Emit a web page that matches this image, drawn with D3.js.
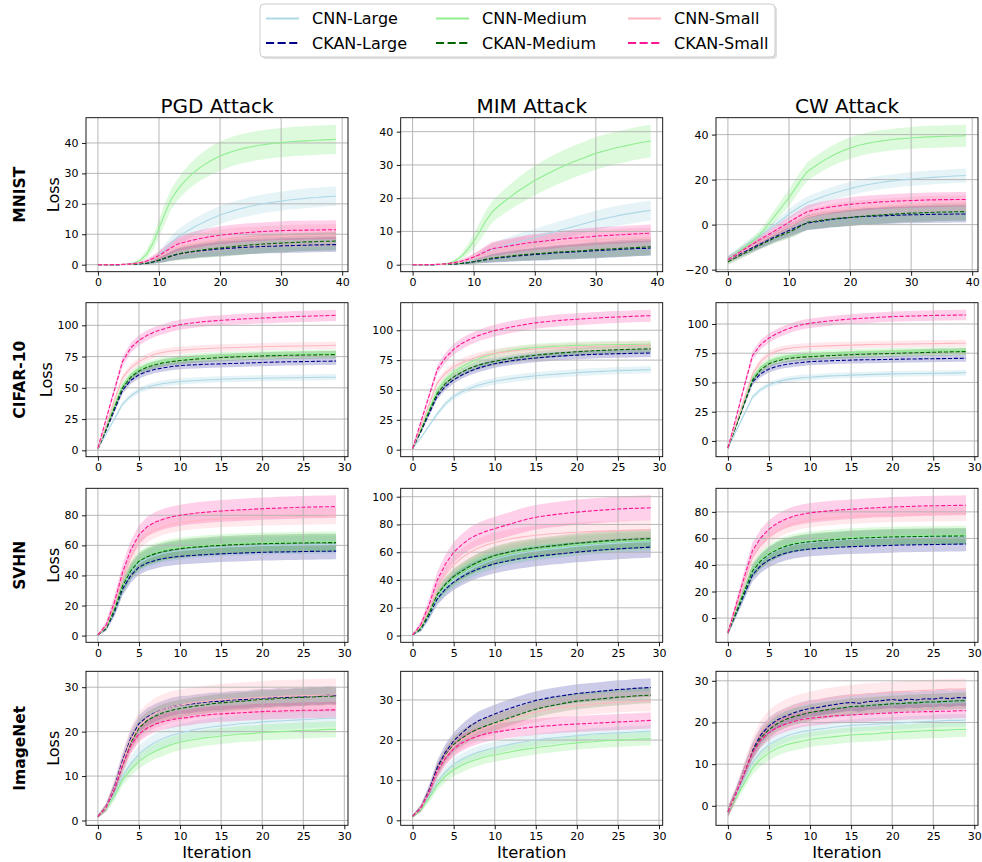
<!DOCTYPE html>
<html><head><meta charset="utf-8">
<script src="https://cdn.jsdelivr.net/npm/d3@7"></script>
<style>body{margin:0;background:#fff}svg{display:block;font-family:"DejaVu Sans",sans-serif}</style>
</head><body><svg id="c" width="982" height="862"></svg>
<script>
const datasets = ["MNIST", "CIFAR-10", "SVHN", "ImageNet"];
const attacks = ["PGD Attack", "MIM Attack", "CW Attack"];
const seriesNames = ["CNN-Large", "CKAN-Large", "CNN-Medium", "CKAN-Medium", "CNN-Small", "CKAN-Small"];
const xTicksMnist = [0, 10, 20, 30, 40];
const xTicksOther = [0, 5, 10, 15, 20, 25, 30];
const yTicksMnist = [[0, 10, 20, 30, 40], [0, 10, 20, 30, 40], [-20, 0, 20, 40]];
const yTicksCifar = [[0, 25, 50, 75, 100], [0, 25, 50, 75, 100], [0, 25, 50, 75, 100]];
const yTicksSvhn = [[0, 20, 40, 60, 80], [0, 20, 40, 60, 80, 100], [0, 20, 40, 60, 80]];
const yTicksImagenet = [[0, 10, 20, 30], [0, 10, 20, 30], [0, 10, 20, 30]];

// ---------- MNIST (40 iterations) ----------
const m_pgd_cnnL = [0,0,0,0,0,0.05,0.1,0.3,0.7,1.5, 3,5,7.2,9,10.3,11.5,12.6,13.6,14.6,15.5, 16.3,17,17.6,18.2,18.7,19.2,19.6,20,20.3,20.6, 20.9,21.2,21.4,21.6,21.8,22,22.1,22.3,22.4,22.5];
const m_pgd_cnnL_sd = [0,0,0,0,0,0.05,0.1,0.2,0.4,0.8, 1.3,1.8,2.2,2.5,2.6,2.7,2.8,2.8,2.9,2.9, 3,3,3,3,3,3.1,3.1,3.1,3.1,3.1, 3.1,3.1,3.2,3.2,3.2,3.2,3.2,3.2,3.2,3.2];
const m_pgd_ckanL = [0,0,0,0,0.05,0.1,0.15,0.3,0.5,0.9, 1.4,2.1,2.8,3.4,3.8,4.1,4.4,4.6,4.8,5, 5.2,5.3,5.45,5.6,5.7,5.8,5.9,6,6.05,6.1, 6.2,6.25,6.3,6.35,6.4,6.45,6.5,6.55,6.6,6.6];
const m_pgd_ckanL_sd = [0,0,0,0,0.05,0.1,0.15,0.25,0.4,0.6, 0.9,1.2,1.5,1.8,1.9,2,2.1,2.1,2.2,2.2, 2.3,2.3,2.3,2.3,2.3,2.3,2.3,2.3,2.3,2.3, 2.4,2.4,2.4,2.4,2.4,2.4,2.4,2.4,2.4,2.4];
const m_pgd_cnnM = [0,0,0,0.05,0.1,0.2,0.6,1.5,3.5,7, 12,17,21.5,24.5,27,29,30.8,32.3,33.6,34.7, 35.7,36.5,37.2,37.8,38.3,38.7,39.1,39.4,39.7,39.9, 40.1,40.3,40.5,40.6,40.7,40.8,40.9,41,41.1,41.2];
const m_pgd_cnnM_sd = [0,0,0,0.05,0.1,0.2,0.4,0.8,1.5,2.3, 3,3.3,3.4,3.5,3.8,4,4.2,4.4,4.6,4.7, 4.8,4.8,4.8,4.8,4.8,4.8,4.8,4.8,4.8,4.8, 4.8,4.8,4.8,4.8,4.8,4.8,4.8,4.8,4.8,4.8];
const m_pgd_ckanM = [0,0,0,0,0.05,0.1,0.15,0.3,0.5,0.9, 1.5,2.2,2.9,3.5,3.9,4.2,4.5,4.8,5.1,5.3, 5.5,5.7,5.9,6.1,6.3,6.5,6.6,6.8,6.9,7, 7.1,7.2,7.3,7.4,7.5,7.5,7.6,7.7,7.7,7.8];
const m_pgd_ckanM_sd = [0,0,0,0,0.05,0.1,0.15,0.25,0.4,0.6, 0.9,1.3,1.6,2,2.2,2.4,2.5,2.6,2.7,2.8, 2.9,2.9,3,3,3,3,3,3,3,3, 3,3,3,3,3,3,3,3,3,3];
const m_pgd_cnnS = [0,0,0,0.05,0.1,0.2,0.35,0.6,1,1.7, 2.6,3.7,4.8,5.7,6.2,6.6,7,7.3,7.6,7.9, 8.1,8.3,8.5,8.7,8.8,8.9,9,9.1,9.2,9.3, 9.4,9.4,9.5,9.5,9.6,9.6,9.6,9.7,9.7,9.7];
const m_pgd_cnnS_sd = [0,0,0,0,0.05,0.1,0.2,0.35,0.6,1, 1.5,2,2.5,2.8,3,3.1,3.2,3.3,3.4,3.5, 3.5,3.5,3.5,3.5,3.5,3.5,3.5,3.5,3.5,3.5, 3.6,3.6,3.6,3.6,3.6,3.6,3.6,3.6,3.6,3.6];
const m_pgd_ckanS = [0,0,0,0.05,0.1,0.2,0.4,0.7,1.2,2, 3,4.3,5.6,6.7,7.3,7.8,8.3,8.7,9.1,9.4, 9.7,9.9,10.1,10.3,10.5,10.6,10.8,10.9,11,11.1, 11.2,11.25,11.3,11.3,11.35,11.4,11.4,11.45,11.5,11.5];
const m_pgd_ckanS_sd = [0,0,0,0,0.05,0.1,0.2,0.35,0.6,1, 1.4,1.8,2.1,2.3,2.5,2.6,2.7,2.8,2.8,2.9, 2.9,3,3,3,3,3,3,3,3,3, 3.1,3.1,3.1,3.1,3.1,3.1,3.1,3.1,3.1,3.1];

const m_mim_cnnL = [0,0,0,0,0,0.05,0.1,0.2,0.4,0.8, 1.5,2.5,3.6,4.5,5,5.6,6.2,6.7,7.2,7.6, 8.1,8.7,9.3,9.8,10.3,10.8,11.3,11.8,12.3,12.8, 13.3,13.7,14.1,14.5,14.9,15.2,15.5,15.8,16.1,16.3];
const m_mim_cnnL_sd = [0,0,0,0,0,0.05,0.1,0.15,0.25,0.45, 0.8,1.2,1.6,2,2.1,2.2,2.3,2.4,2.5,2.5, 2.6,2.6,2.7,2.7,2.8,2.8,2.8,2.9,2.9,2.9, 3,3,3,3,3,3,3,3,3,3];
const m_mim_ckanL = [0,0,0,0,0.05,0.1,0.15,0.25,0.4,0.6, 0.9,1.2,1.5,1.8,2,2.2,2.4,2.6,2.8,2.9, 3.1,3.2,3.3,3.5,3.6,3.7,3.8,3.9,4,4.1, 4.2,4.3,4.4,4.5,4.6,4.7,4.8,4.9,4.9,5];
const m_mim_ckanL_sd = [0,0,0,0,0.05,0.1,0.15,0.2,0.3,0.45, 0.6,0.8,1,1.2,1.3,1.4,1.5,1.6,1.7,1.8, 1.9,1.9,2,2,2.1,2.1,2.2,2.2,2.2,2.3, 2.3,2.3,2.3,2.3,2.3,2.3,2.3,2.3,2.3,2.3];
const m_mim_cnnM = [0,0,0,0.05,0.1,0.2,0.5,1.2,2.5,4.5, 7,10,13.2,15.8,17.5,19,20.4,21.8,23,24.2, 25.3,26.3,27.3,28.2,29.1,29.9,30.7,31.4,32.1,32.8, 33.5,34,34.5,35,35.4,35.8,36.2,36.6,36.9,37.2];
const m_mim_cnnM_sd = [0,0,0,0,0.05,0.1,0.2,0.5,0.9,1.5, 2.2,2.8,3.2,3.2,3.4,3.6,3.8,4,4.2,4.3, 4.4,4.5,4.6,4.7,4.7,4.8,4.8,4.8,4.8,4.9, 4.9,4.9,4.9,4.9,4.9,4.9,4.9,4.9,4.9,4.9];
const m_mim_ckanM = [0,0,0,0,0.05,0.1,0.15,0.25,0.4,0.6, 0.9,1.2,1.6,2,2.2,2.4,2.6,2.8,3,3.1, 3.3,3.4,3.5,3.7,3.8,3.9,4,4.1,4.2,4.4, 4.5,4.6,4.7,4.8,4.9,5,5.1,5.2,5.3,5.4];
const m_mim_ckanM_sd = [0,0,0,0,0.05,0.1,0.15,0.2,0.3,0.45, 0.6,0.8,1,1.2,1.3,1.4,1.5,1.6,1.7,1.8, 1.9,2,2,2.1,2.1,2.2,2.2,2.3,2.3,2.4, 2.4,2.4,2.4,2.5,2.5,2.5,2.5,2.5,2.5,2.5];
const m_mim_cnnS = [0,0,0,0.05,0.1,0.15,0.3,0.5,0.8,1.3, 1.9,2.6,3.4,4.1,4.4,4.7,5,5.2,5.5,5.7, 5.9,6.1,6.3,6.5,6.6,6.8,6.9,7.1,7.2,7.3, 7.4,7.5,7.6,7.7,7.8,7.9,8,8,8.1,8.1];
const m_mim_cnnS_sd = [0,0,0,0,0.05,0.1,0.2,0.3,0.5,0.8, 1.2,1.6,2,2.3,2.4,2.5,2.6,2.7,2.8,2.8, 2.9,2.9,2.9,2.9,2.9,2.9,2.9,2.9,2.9,2.9, 3,3,3,3,3,3,3,3,3,3];
const m_mim_ckanS = [0,0,0,0.05,0.1,0.2,0.4,0.7,1.1,1.6, 2.3,3.1,4,4.8,5.1,5.4,5.7,6,6.3,6.6, 6.8,7,7.2,7.4,7.6,7.8,8,8.1,8.3,8.4, 8.6,8.7,8.8,8.9,9,9.1,9.2,9.3,9.4,9.5];
const m_mim_ckanS_sd = [0,0,0,0,0.05,0.1,0.2,0.3,0.5,0.8, 1.1,1.4,1.7,2,2.1,2.2,2.2,2.3,2.3,2.4, 2.4,2.4,2.5,2.5,2.5,2.5,2.5,2.6,2.6,2.6, 2.6,2.6,2.6,2.6,2.6,2.6,2.6,2.6,2.6,2.6];

const m_cw_cnnL = [-15,-13,-11,-9,-7,-5.5,-3.5,-1.5,0.5,2.5, 4.7,6.5,8.3,9.8,10.8,11.8,12.8,13.7,14.5,15.3, 16,16.7,17.3,17.8,18.3,18.7,19.1,19.4,19.7,20, 20.3,20.5,20.7,20.9,21.1,21.3,21.4,21.6,21.7,21.8];
const m_cw_cnnL_sd = [1.2,1.2,1.3,1.3,1.4,1.5,1.6,1.7,1.8,2, 2.2,2.4,2.6,2.7,2.8,2.8,2.9,2.9,3,3, 3,3,3,3,3,3,3,3,3,3, 3.1,3.1,3.1,3.1,3.1,3.1,3.1,3.1,3.1,3.1];
const m_cw_ckanL = [-15.5,-14.2,-12.9,-11.6,-10.3,-9,-7.7,-6.3,-5,-3.8, -2.6,-1.4,-0.3,0.7,1.1,1.5,1.9,2.3,2.6,2.9, 3.2,3.4,3.6,3.7,3.8,3.9,4,4.1,4.2,4.3, 4.4,4.4,4.5,4.5,4.6,4.6,4.6,4.7,4.7,4.7];
const m_cw_ckanL_sd = [1.3,1.4,1.5,1.6,1.7,1.8,2,2.1,2.3,2.5, 2.7,2.9,3,3.2,3.3,3.4,3.5,3.5,3.6,3.6, 3.7,3.7,3.7,3.7,3.7,3.7,3.7,3.7,3.7,3.7, 3.8,3.8,3.8,3.8,3.8,3.8,3.8,3.8,3.8,3.8];
const m_cw_cnnM = [-15.5,-13.5,-11.5,-9.5,-7.5,-5,-2,1.5,5,8.5, 12,16,20,23.5,25.5,27.3,29,30.5,31.8,33, 34,34.9,35.6,36.2,36.7,37.1,37.5,37.8,38.1,38.3, 38.5,38.7,38.9,39,39.1,39.2,39.3,39.4,39.4,39.5];
const m_cw_cnnM_sd = [1.5,1.5,1.6,1.7,1.8,2,2.3,2.6,3,3.4, 3.7,3.9,4,4.1,4.2,4.3,4.4,4.5,4.6,4.7, 4.8,4.8,4.8,4.8,4.8,4.8,4.8,4.8,4.8,4.8, 4.9,4.9,4.9,4.9,4.9,4.9,4.9,4.9,4.9,4.9];
const m_cw_ckanM = [-16.5,-15.1,-13.7,-12.3,-10.9,-9.5,-8.1,-6.8,-5.5,-4.4, -3.4,-2.1,-0.5,1,1.4,1.8,2.2,2.5,2.8,3, 3.2,3.5,3.7,3.9,4.1,4.3,4.5,4.6,4.8,5, 5.1,5.2,5.3,5.4,5.5,5.6,5.6,5.7,5.7,5.8];
const m_cw_ckanM_sd = [1.3,1.4,1.5,1.6,1.7,1.8,2,2.1,2.3,2.5, 2.7,2.9,3.1,3.3,3.4,3.5,3.6,3.7,3.8,3.8, 3.9,3.9,3.9,3.9,3.9,3.9,3.9,3.9,3.9,3.9, 4,4,4,4,4,4,4,4,4,4];
const m_cw_cnnS = [-15.5,-14,-12.5,-11,-9.5,-8,-6.5,-5,-3.6,-2.2, -0.8,0.7,2.2,3.5,4.1,4.7,5.2,5.7,6.1,6.5, 6.8,7.1,7.4,7.6,7.8,8,8.2,8.4,8.5,8.7, 8.8,8.9,9,9.1,9.2,9.3,9.3,9.4,9.4,9.5];
const m_cw_cnnS_sd = [1.3,1.4,1.5,1.6,1.7,1.8,1.9,2,2.2,2.4, 2.6,2.8,3,3.1,3.2,3.3,3.3,3.4,3.4,3.5, 3.5,3.5,3.5,3.5,3.5,3.5,3.5,3.5,3.5,3.5, 3.6,3.6,3.6,3.6,3.6,3.6,3.6,3.6,3.6,3.6];
const m_cw_ckanS = [-15.5,-13.8,-12.1,-10.4,-8.7,-7,-5.4,-3.8,-2.2,-0.6, 1,2.7,4.3,5.8,6.4,7,7.5,7.9,8.3,8.7, 9,9.3,9.5,9.7,9.9,10.1,10.2,10.4,10.5,10.6, 10.7,10.8,10.9,11,11,11.1,11.1,11.2,11.2,11.2];
const m_cw_ckanS_sd = [1.3,1.4,1.5,1.6,1.7,1.8,1.9,2,2.2,2.3, 2.5,2.6,2.7,2.8,2.9,3,3,3.1,3.1,3.1, 3.2,3.2,3.2,3.2,3.2,3.2,3.2,3.2,3.2,3.2, 3.3,3.3,3.3,3.3,3.3,3.3,3.3,3.3,3.3,3.3];

// ---------- CIFAR-10 (30 iterations) ----------
const c_pgd_cnnL = [1,13,25,37,43.5,48,50.5,52.3,53.5,54.3, 55,55.5,55.9,56.2,56.5,56.8,57,57.2,57.4,57.5, 57.7,57.8,57.9,58,58.1,58.2,58.3,58.4,58.5,58.5];
const c_pgd_cnnL_sd = [0.5,1,1.5,2,2.2,2.3,2.4,2.4,2.5,2.5, 2.5,2.5,2.5,2.5,2.5,2.5,2.5,2.5,2.5,2.5, 2.5,2.5,2.5,2.5,2.5,2.5,2.5,2.5,2.5,2.5];
const c_pgd_ckanL = [1,16,32,48,56,60.4,63,64.8,66,67, 67.8,68.2,68.5,68.8,69,69.2,69.4,69.6,69.8,70, 70.3,70.5,70.6,70.8,70.9,71,71.1,71.2,71.3,71.4];
const c_pgd_ckanL_sd = [0.5,1.2,2,2.8,3,3,3,3,3,3, 3,3,3,3,3,3,3,3,3,3, 3,3,3,3,3,3,3,3,3,3];
const c_pgd_cnnM = [1,18,36,52,60,65,68,70,71.5,72.5, 73.3,74,74.5,75,75.3,75.6,75.9,76.1,76.3,76.5, 76.7,76.8,76.9,77,77.1,77.2,77.3,77.4,77.5,77.5];
const c_pgd_cnnM_sd = [0.5,1.2,2,2.8,3,3,3,3,3,3, 3,3,3,3,3,3,3,3,3,3, 3,3,3,3,3,3,3,3,3,3];
const c_pgd_ckanM = [1,17,34,50,58.5,63.5,66.5,68.5,70,71, 71.8,72.4,73,73.4,73.8,74.2,74.5,74.8,75,75.2, 75.5,75.7,75.8,76,76.1,76.2,76.3,76.4,76.5,76.6];
const c_pgd_ckanM_sd = [0.5,1.2,2,2.8,3,3,3,3,3,3, 3,3,3,3,3,3,3,3,3,3, 3,3,3,3,3,3,3,3,3,3];
const c_pgd_cnnS = [1,20,40,58,66,71,74.5,77,78.5,79.5, 80,80.5,81,81.3,81.6,81.8,82,82.2,82.4,82.6, 82.8,83,83.2,83.3,83.4,83.5,83.6,83.7,83.8,84];
const c_pgd_cnnS_sd = [0.5,1.5,2.5,3,3,3,3,3,3,3, 3,3,3,3,3,3,3,3,3,3, 3,3,3,3,3,3,3,3,3,3];
const c_pgd_ckanS = [2,25,48,71,82,88,92,95,97,99, 100.5,101.5,102.3,103,103.5,104,104.4,104.8,105.2,105.5, 105.8,106.1,106.4,106.7,107,107.2,107.4,107.6,107.8,108];
const c_pgd_ckanS_sd = [1,2,3,3.8,4,4,4,4,4,4, 4,4,4,4,4.1,4.1,4.2,4.2,4.3,4.3, 4.3,4.4,4.4,4.4,4.5,4.5,4.5,4.5,4.5,4.5];

const c_mim_cnnL = [1,10,20,30,38.5,44.5,48.5,51.5,54,55.8, 57.3,58.5,59.5,60.4,61.2,61.9,62.5,63,63.5,64, 64.5,64.9,65.3,65.6,65.9,66.2,66.4,66.6,66.8,67];
const c_mim_cnnL_sd = [0.5,1,1.5,2,2.3,2.5,2.6,2.7,2.8,2.9, 3,3,3,3,3,3,3,3,3,3, 3,3,3,3,3,3,3,3,3,3];
const c_mim_ckanL = [1,15,30,45,53,58.5,62.5,65.8,68.3,70.3, 72,73.3,74.4,75.3,76.1,76.8,77.4,77.9,78.4,78.8, 79.2,79.5,79.8,80,80.2,80.4,80.5,80.7,80.8,80.9];
const c_mim_ckanL_sd = [0.5,1.2,2,2.8,3,3.1,3.2,3.3,3.4,3.5, 3.5,3.5,3.5,3.5,3.5,3.5,3.5,3.5,3.5,3.5, 3.5,3.5,3.5,3.5,3.5,3.5,3.5,3.5,3.5,3.5];
const c_mim_cnnM = [1,17,34,50,59,65,69.5,73,76,78.5, 80.5,82,83.2,84.2,85,85.6,86.1,86.5,86.8,87.1, 87.3,87.5,87.7,87.8,87.9,88,88.1,88.2,88.3,88.4];
const c_mim_cnnM_sd = [0.5,1.2,2,2.8,3,3,3,3,3,3, 3,3,3,3,3,3,3,3,3,3, 3,3,3,3,3,3,3,3,3,3];
const c_mim_ckanM = [1,16,32,47,55.5,61,65,68.3,70.8,72.6, 74,75.3,76.4,77.4,78.3,79.1,79.8,80.4,81,81.5, 82,82.4,82.8,83.1,83.4,83.7,83.9,84.1,84.3,84.5];
const c_mim_ckanM_sd = [0.5,1.2,2,2.8,3,3.1,3.2,3.3,3.3,3.3, 3.3,3.3,3.3,3.3,3.3,3.3,3.3,3.3,3.3,3.3, 3.3,3.3,3.3,3.3,3.3,3.3,3.3,3.3,3.3,3.3];
const c_mim_cnnS = [1,19,38,56,64,69.5,73,75.7,77.8,79.4, 80.7,81.7,82.5,83.2,83.8,84.3,84.7,85.1,85.4,85.7, 86,86.2,86.4,86.6,86.8,87,87.1,87.2,87.3,87.4];
const c_mim_cnnS_sd = [0.5,1.5,2.5,3,3.2,3.4,3.5,3.5,3.5,3.5, 3.5,3.5,3.5,3.5,3.5,3.5,3.5,3.5,3.5,3.5, 3.5,3.5,3.5,3.5,3.5,3.5,3.5,3.5,3.5,3.5];
const c_mim_ckanS = [1,23,45,67,77,84,89,92.5,95.5,97.8, 99.7,101.3,102.7,104,105.2,106.2,107,107.7,108.3,108.8, 109.2,109.7,110.1,110.5,110.8,111.1,111.4,111.7,112,112.2];
const c_mim_ckanS_sd = [1,2,3,3.8,4.2,4.5,4.6,4.7,4.8,4.9, 5,5,5,5,5,5,5,5,5,5, 5,5,5,5,5,5,5,5,5,5];

const c_cw_cnnL = [-6,8.5,23,37.5,44,48,50.5,52.2,53.3,54, 54.5,55,55.4,55.7,56,56.3,56.5,56.7,56.9,57.1, 57.3,57.4,57.5,57.6,57.7,57.8,57.9,58,58.2,58.3];
const c_cw_cnnL_sd = [1.5,1.5,1.8,2,2.2,2.3,2.4,2.4,2.5,2.5, 2.5,2.5,2.5,2.5,2.5,2.5,2.5,2.5,2.5,2.5, 2.5,2.5,2.5,2.5,2.5,2.5,2.5,2.5,2.5,2.5];
const c_cw_ckanL = [-6,13,32,50.5,57.5,61.5,63.8,65.3,66.3,67.1, 67.8,68.1,68.4,68.7,68.9,69.1,69.3,69.4,69.5,69.6, 69.8,69.9,70,70.1,70.2,70.3,70.4,70.5,70.6,70.7];
const c_cw_ckanL_sd = [1.5,1.8,2.2,2.8,3,3,3,3,3,3, 3,3,3,3,3,3,3,3,3,3, 3,3,3,3,3,3,3,3,3,3];
const c_cw_cnnM = [-6,14,34,54,63,68,70.5,72,73,73.6, 74,74.4,74.7,75,75.3,75.5,75.7,75.9,76.1,76.3, 76.4,76.5,76.6,76.7,76.8,76.9,77,77.1,77.2,77.2];
const c_cw_cnnM_sd = [1.5,1.8,2.2,2.8,3,3,3,3,3,3, 3,3,3,3,3,3,3,3,3,3, 3,3,3,3,3,3,3,3,3,3];
const c_cw_ckanM = [-6,13,32.5,52,61,66,68.5,70,71,71.6, 72,72.4,72.8,73.1,73.4,73.7,74,74.2,74.4,74.6, 74.8,75,75.2,75.4,75.6,75.8,76,76.1,76.3,76.4];
const c_cw_ckanM_sd = [1.5,1.8,2.2,2.8,3,3,3,3,3,3, 3,3,3,3,3,3,3,3,3,3, 3,3,3,3,3,3,3,3,3,3];
const c_cw_cnnS = [-6,15,36,57,68,74,77,78.7,79.7,80.3, 80.7,81,81.3,81.5,81.7,81.9,82.1,82.3,82.5,82.6, 82.7,82.8,82.9,83,83.1,83.2,83.3,83.4,83.5,83.5];
const c_cw_cnnS_sd = [1.5,2,2.5,3,3,3,3,3,3,3, 3,3,3,3,3,3,3,3,3,3, 3,3,3,3,3,3,3,3,3,3];
const c_cw_ckanS = [-6,20,47,73,82.5,88,92,95,97.5,99.3, 100.6,101.5,102.3,103,103.7,104.3,104.7,105.1,105.5,105.9, 106.3,106.5,106.7,106.9,107.1,107.3,107.4,107.5,107.6,107.7];
const c_cw_ckanS_sd = [1.5,2.2,3,3.8,4,4,4,4,4,4, 4,4,4,4,4.1,4.1,4.2,4.2,4.3,4.3, 4.3,4.4,4.4,4.4,4.5,4.5,4.5,4.5,4.5,4.5];

// ---------- SVHN ----------
const s_pgd_cnnL = [0.5,4.5,16,32,42,48.3,51.3,53.3,54.8,55.8, 56.6,57.2,57.7,58.1,58.5,58.8,59.1,59.3,59.5,59.7, 59.9,60,60.1,60.2,60.3,60.4,60.5,60.5,60.6,60.6];
const s_pgd_cnnL_sd = [0.3,1.5,3,4.5,5.2,5.5,5.7,5.8,5.9,6, 6,6,6,6,6,6,6,6,6,6, 6,6,6,6,6,6,6,6,6,6];
const s_pgd_ckanL = [0.5,4.5,15.5,31,40,45.5,48.3,50,51.3,52.1, 52.7,53.1,53.5,53.8,54.1,54.4,54.6,54.8,55,55.2, 55.4,55.5,55.6,55.7,55.8,55.9,56,56.1,56.1,56.2];
const s_pgd_ckanL_sd = [0.3,1.5,3,4.3,4.8,5,5.2,5.3,5.4,5.5, 5.5,5.5,5.5,5.5,5.5,5.5,5.5,5.5,5.5,5.5, 5.5,5.5,5.5,5.5,5.5,5.5,5.5,5.5,5.5,5.5];
const s_pgd_cnnM = [0.5,5,17.5,33.5,43.5,50,53,55,56.5,57.5, 58.4,59,59.5,59.9,60.3,60.6,60.9,61.1,61.3,61.5, 61.7,61.8,61.9,62,62.1,62.2,62.3,62.3,62.4,62.4];
const s_pgd_cnnM_sd = [0.3,1.5,3.2,5,5.8,6.2,6.4,6.5,6.6,6.7, 6.8,6.8,6.8,6.8,6.8,6.8,6.8,6.8,6.8,6.8, 6.8,6.8,6.8,6.8,6.8,6.8,6.8,6.8,6.8,6.8];
const s_pgd_ckanM = [0.5,5,17,33,43,49.5,52.5,54.5,56,57, 57.8,58.4,58.9,59.3,59.7,60,60.3,60.5,60.7,60.9, 61.1,61.2,61.3,61.4,61.5,61.6,61.7,61.7,61.8,61.8];
const s_pgd_ckanM_sd = [0.3,1.5,3,4.5,5.2,5.5,5.6,5.7,5.8,5.9, 6,6,6,6,6,6,6,6,6,6, 6,6,6,6,6,6,6,6,6,6];
const s_pgd_cnnS = [0.5,6,20,38,52,62,67.5,70.5,72.5,74, 75,75.8,76.4,76.9,77.3,77.6,77.9,78.1,78.3,78.5, 78.7,78.8,78.9,79,79.1,79.2,79.3,79.4,79.5,79.5];
const s_pgd_cnnS_sd = [0.3,2,4,5,5.2,5.3,5.4,5.5,5.5,5.5, 5.5,5.5,5.5,5.5,5.5,5.5,5.5,5.5,5.5,5.5, 5.5,5.5,5.5,5.5,5.5,5.5,5.5,5.5,5.5,5.5];
const s_pgd_ckanS = [0.5,7,22,42,57,67,72.5,75.5,77.5,79, 80,80.8,81.5,82,82.5,82.9,83.2,83.5,83.8,84.1, 84.4,84.6,84.8,85,85.2,85.4,85.5,85.6,85.7,85.8];
const s_pgd_ckanS_sd = [0.3,2.5,4.5,5.5,6,6.3,6.5,6.7,6.8,6.9, 7,7,7.1,7.1,7.2,7.2,7.3,7.3,7.3,7.4, 7.4,7.4,7.5,7.5,7.5,7.5,7.5,7.5,7.5,7.5];

const s_mim_cnnL = [0.5,4.5,14.5,27,34.5,40,44,47.5,50.5,53, 55,56.6,58,59.2,60.2,61,61.7,62.4,63,63.7, 64.3,64.8,65.3,65.8,66.2,66.6,66.9,67.2,67.4,67.6];
const s_mim_cnnL_sd = [0.3,1.5,3,4.5,5.2,5.6,6,6.3,6.5,6.7, 6.8,6.8,6.8,6.8,6.8,6.9,6.9,6.9,6.9,6.9, 7,7,7,7,7,7,7,7,7,7];
const s_mim_ckanL = [0.5,4.5,14.5,26.5,33.5,38.5,42.3,45.5,48,50, 51.7,53,54.2,55.3,56.2,57,57.7,58.3,58.9,59.5, 60.1,60.6,61.1,61.6,62,62.4,62.8,63.1,63.4,63.7];
const s_mim_ckanL_sd = [0.3,1.5,3,4.5,5.2,5.6,6,6.3,6.5,6.7, 6.8,6.9,7,7,7.1,7.1,7.2,7.2,7.3,7.3, 7.3,7.4,7.4,7.4,7.5,7.5,7.5,7.5,7.5,7.5];
const s_mim_cnnM = [0.5,5,16,29,36,41.5,45.5,49,52,54.3, 56.5,58,59.3,60.4,61.3,62,62.7,63.4,64,64.7, 65.3,65.8,66.3,66.8,67.2,67.6,67.9,68.2,68.4,68.6];
const s_mim_cnnM_sd = [0.3,1.5,3.2,4.8,5.5,6,6.3,6.5,6.7,6.9, 7,7,7,7,7,7,7,7,7,7, 7,7,7,7,7,7,7,7,7,7];
const s_mim_ckanM = [0.5,5,16,29.5,37,42.5,46.5,50,53,55.5, 57.7,59.2,60.5,61.6,62.5,63.2,63.9,64.6,65.2,65.9, 66.5,67,67.5,68,68.4,68.8,69.1,69.4,69.6,69.8];
const s_mim_ckanM_sd = [0.3,1.5,3,4.5,5.2,5.6,6,6.2,6.4,6.5, 6.6,6.7,6.8,6.8,6.9,6.9,7,7,7,7, 7,7,7,7,7,7,7,7,7,7];
const s_mim_cnnS = [0.5,7,19,34,44,51,56,60,63,65.3, 67,68.5,69.7,70.7,71.5,72.2,72.8,73.3,73.7,74.1, 74.4,74.7,75,75.2,75.4,75.6,75.8,75.9,76,76.1];
const s_mim_cnnS_sd = [0.3,2,4,5.5,6,6.3,6.5,6.6,6.7,6.8, 7,7,7,7,7,7,7,7,7,7, 7,7,7,7,7,7,7,7,7,7];
const s_mim_ckanS = [0.5,8,22,40,51.5,60,65.5,70,73,75.2, 77,78.8,80.5,82.3,83.9,85.2,86.1,86.9,87.6,88.3, 88.9,89.4,89.9,90.3,90.7,91.1,91.4,91.6,91.8,92];
const s_mim_ckanS_sd = [0.3,2.5,4.5,6,6.8,7.3,7.7,8,8.2,8.4, 8.5,8.6,8.7,8.8,8.8,8.9,8.9,8.9,9,9, 9,9,9,9,9,9,9,9,9,9];

const s_cw_cnnL = [-11,4,19.5,35,42.5,47.5,51,53.5,55.2,56.3, 57,57.6,58.1,58.6,59,59.4,59.7,60,60.2,60.4, 60.6,60.7,60.8,60.9,61,61.1,61.2,61.2,61.3,61.3];
const s_cw_cnnL_sd = [2,3,4,5,5.5,5.8,6,6,6,6, 6,6,6,6,6,6,6,6,6,6, 6,6,6,6,6,6,6,6,6,6];
const s_cw_ckanL = [-11,3.5,18,32.5,39.5,43.8,46.8,48.9,50.3,51.3, 52,52.5,52.9,53.2,53.5,53.8,54,54.2,54.4,54.6, 54.8,55,55.1,55.2,55.3,55.4,55.5,55.6,55.7,55.8];
const s_cw_ckanL_sd = [2,3,4,5,5.3,5.5,5.5,5.5,5.5,5.5, 5.5,5.5,5.5,5.5,5.5,5.5,5.5,5.5,5.5,5.5, 5.5,5.5,5.5,5.5,5.5,5.5,5.5,5.5,5.5,5.5];
const s_cw_cnnM = [-11,5,21,36.5,44,49,52.3,54.8,56.4,57.5, 58.2,58.8,59.3,59.8,60.2,60.6,60.9,61.2,61.4,61.6, 61.8,61.9,62,62.1,62.2,62.3,62.4,62.4,62.5,62.5];
const s_cw_cnnM_sd = [2,3,4.5,5.5,6.2,6.5,6.7,6.8,6.9,7, 7,7,7,7,7,7,7,7,7,7, 7,7,7,7,7,7,7,7,7,7];
const s_cw_ckanM = [-11,4.5,20,35.5,43,48,51.5,54,55.7,56.8, 57.5,58.1,58.6,59.1,59.5,59.9,60.2,60.5,60.7,60.9, 61.1,61.2,61.3,61.4,61.5,61.6,61.7,61.7,61.8,61.8];
const s_cw_ckanM_sd = [2,3,4,5,5.5,5.8,6,6,6,6, 6,6,6,6,6,6,6,6,6,6, 6,6,6,6,6,6,6,6,6,6];
const s_cw_cnnS = [-11,8,27,46,55,61,65.5,68.8,71,72.6, 73.8,74.6,75.2,75.7,76.1,76.5,76.8,77.1,77.3,77.5, 77.7,77.9,78,78.1,78.2,78.3,78.4,78.5,78.6,78.7];
const s_cw_cnnS_sd = [2,3,4,5,5.2,5.3,5.4,5.5,5.5,5.5, 5.5,5.5,5.5,5.5,5.5,5.5,5.5,5.5,5.5,5.5, 5.5,5.5,5.5,5.5,5.5,5.5,5.5,5.5,5.5,5.5];
const s_cw_ckanS = [-11,10,31,51,60.5,67,71.5,74.5,76.8,78.2, 79.3,80,80.6,81.1,81.6,82,82.4,82.8,83.1,83.4, 83.7,83.9,84.1,84.3,84.5,84.6,84.7,84.8,84.9,85];
const s_cw_ckanS_sd = [2,3.5,5,6,6.5,6.8,7,7.1,7.2,7.3, 7.4,7.4,7.4,7.4,7.4,7.4,7.4,7.4,7.4,7.4, 7.5,7.5,7.5,7.5,7.5,7.5,7.5,7.5,7.5,7.5];

// ---------- ImageNet ----------
const i_pgd_cnnL = [0.9,2.8,6,10,12.8,15,16.5,17.6,18.5,19.2, 19.7,20.1,20.5,20.8,21.1,21.3,21.5,21.7,21.9,22, 22.2,22.3,22.4,22.5,22.6,22.7,22.8,22.9,23,23];
const i_pgd_cnnL_sd = [0.3,0.8,1.2,1.5,1.7,1.8,1.9,2,2,2, 2,2,2,2,2,2,2,2,2,2, 2,2,2,2,2,2,2,2,2,2];
const i_pgd_ckanL = [0.9,3,7.5,13.5,18.5,21.8,23.3,24.3,25,25.6, 26,26.1,26.4,26.6,26.8,26.8,27.1,27.2,27.2,27.5, 27.6,27.6,27.8,27.7,27.9,27.8,28.1,28,28.2,28.1];
const i_pgd_ckanL_sd = [0.3,0.8,1.2,1.6,1.8,1.9,2,2,2,2, 2,2,2,2,2,2,2,2,2,2, 2,2,2,2,2,2,2,2,2,2];
const i_pgd_cnnM = [0.8,2.7,5.5,9.2,11.5,13.3,14.6,15.6,16.4,17.1, 17.6,18,18.3,18.6,18.8,19,19.2,19.4,19.5,19.6, 19.8,19.9,20,20.1,20.2,20.3,20.3,20.4,20.5,20.5];
const i_pgd_cnnM_sd = [0.3,0.7,1,1.3,1.5,1.6,1.7,1.7,1.8,1.8, 1.8,1.8,1.8,1.8,1.8,1.8,1.8,1.8,1.8,1.8, 1.8,1.8,1.8,1.8,1.8,1.8,1.8,1.8,1.8,1.8];
const i_pgd_ckanM = [0.9,3,7,12.5,17.5,20.8,22.5,23.5,24.3,24.8, 25.2,25.5,25.8,26,26.3,26.5,26.6,26.8,26.9,27.1, 27.3,27.3,27.5,27.5,27.7,27.7,27.8,27.9,28,28];
const i_pgd_ckanM_sd = [0.3,0.8,1.2,1.6,1.8,1.9,2,2,2,2, 2,2,2,2,2,2,2,2,2,2, 2,2,2,2,2,2,2,2,2,2];
const i_pgd_cnnS = [0.9,3,7.3,13,18,21.3,23,24.2,25,25.6, 26,26.3,26.6,26.8,27,27.2,27.3,27.4,27.5,27.6, 27.7,27.8,27.9,28,28,28.1,28.1,28.2,28.2,28.3];
const i_pgd_cnnS_sd = [0.3,1,1.8,2.5,3,3.2,3.3,3.4,3.5,3.5, 3.5,3.5,3.5,3.5,3.5,3.6,3.6,3.6,3.6,3.6, 3.7,3.7,3.7,3.7,3.7,3.7,3.7,3.7,3.7,3.7];
const i_pgd_ckanS = [0.9,3,7,12.5,16.8,19.5,20.8,21.7,22.3,22.7, 23,23.2,23.5,23.7,23.9,24,24.1,24.2,24.3,24.4, 24.5,24.6,24.6,24.7,24.7,24.8,24.8,24.8,24.9,24.9];
const i_pgd_ckanS_sd = [0.3,0.8,1.2,1.5,1.7,1.8,1.8,1.8,1.8,1.8, 1.8,1.8,1.8,1.8,1.8,1.8,1.8,1.8,1.8,1.8, 1.8,1.8,1.8,1.8,1.8,1.8,1.8,1.8,1.8,1.8];

const i_mim_cnnL = [1,2.8,6,9.5,12,14,15.2,16.2,17,17.6, 18.1,18.6,19,19.4,19.7,20,20.3,20.5,20.7,20.9, 21.1,21.3,21.5,21.6,21.7,21.8,21.9,22,22.1,22.2];
const i_mim_cnnL_sd = [0.3,0.6,1,1.3,1.4,1.5,1.5,1.5,1.5,1.5, 1.5,1.5,1.5,1.5,1.5,1.5,1.5,1.5,1.5,1.5, 1.5,1.5,1.5,1.5,1.5,1.5,1.5,1.5,1.5,1.5];
const i_mim_ckanL = [1,3,7.5,13.2,17,19.8,21.8,23.5,24.8,25.7, 26.5,27.3,28,28.7,29.3,29.9,30.3,30.7,31,31.3, 31.6,31.8,32,32.2,32.4,32.6,32.7,32.9,33,33.1];
const i_mim_ckanL_sd = [0.3,0.8,1.3,1.7,2,2.1,2.2,2.2,2.3,2.3, 2.3,2.3,2.3,2.3,2.3,2.3,2.3,2.3,2.3,2.3, 2.3,2.3,2.3,2.3,2.3,2.3,2.3,2.3,2.3,2.3];
const i_mim_cnnM = [0.8,2.6,5.5,8.8,11,12.6,13.7,14.6,15.3,15.9, 16.3,16.7,17.1,17.5,17.8,18.1,18.4,18.6,18.9,19.1, 19.3,19.5,19.6,19.8,19.9,20,20.1,20.2,20.3,20.4];
const i_mim_cnnM_sd = [0.3,0.6,1,1.3,1.5,1.6,1.7,1.7,1.7,1.7, 1.7,1.7,1.7,1.7,1.7,1.7,1.7,1.7,1.7,1.7, 1.7,1.7,1.7,1.7,1.7,1.7,1.7,1.7,1.7,1.7];
const i_mim_ckanM = [1,3,7,12.5,16.2,18.9,20.5,21.8,22.8,23.6, 24.3,25,25.7,26.4,27.1,27.7,28.2,28.6,29,29.4, 29.7,29.9,30.1,30.3,30.5,30.7,30.8,31,31.1,31.2];
const i_mim_ckanM_sd = [0.3,0.8,1.2,1.6,1.8,1.9,2,2,2,2, 2,2,2,2,2,2,2,2,2,2, 2,2,2,2,2,2,2,2,2,2];
const i_mim_cnnS = [1,3,7,12.3,16,18.5,20.1,21.4,22.4,23.2, 23.9,24.6,25.3,25.9,26.5,27,27.4,27.8,28.1,28.4, 28.6,28.8,29,29.1,29.3,29.4,29.5,29.6,29.7,29.7];
const i_mim_cnnS_sd = [0.3,0.8,1.3,1.8,2.1,2.3,2.4,2.5,2.5,2.5, 2.5,2.5,2.5,2.5,2.5,2.5,2.5,2.5,2.5,2.5, 2.5,2.5,2.5,2.5,2.5,2.5,2.5,2.5,2.5,2.5];
const i_mim_ckanS = [1,3,7,12.3,15.5,17.8,19.3,20.3,21,21.6, 22,22.3,22.6,22.9,23.1,23.3,23.5,23.6,23.8,23.9, 24,24.1,24.2,24.3,24.4,24.5,24.6,24.7,24.8,24.9];
const i_mim_ckanS_sd = [0.3,0.8,1.2,1.6,1.8,1.9,2,2,2,2, 2,2,2,2,2,2,2,2,2,2, 2,2,2,2,2,2,2,2,2,2];

const i_cw_cnnL = [-1.5,2.5,6.5,10.5,13,14.7,15.8,16.7,17.3,17.8, 18.1,18.4,18.6,18.9,19.1,19.3,19.4,19.5,19.6,19.7, 19.8,19.9,20,20.1,20.2,20.3,20.4,20.5,20.5,20.6];
const i_cw_cnnL_sd = [1.2,1.2,1.3,1.4,1.5,1.5,1.5,1.5,1.5,1.5, 1.5,1.5,1.5,1.5,1.5,1.5,1.5,1.5,1.5,1.5, 1.5,1.5,1.5,1.5,1.5,1.5,1.5,1.5,1.5,1.5];
const i_cw_ckanL = [-1.5,3,8.5,13.5,17,19.2,20.6,21.5,22.3,22.9, 23.4,23.6,24,24.3,24.6,24.8,24.6,25,25.1,25.3, 25.5,25.3,25.6,25.4,25.7,25.6,25.9,25.7,26,25.9];
const i_cw_ckanL_sd = [1.2,1.3,1.5,1.8,2,2,2,2,2,2, 2,2,2,2,2,2,2,2,2,2, 2,2,2,2,2,2,2,2,2,2];
const i_cw_cnnM = [-1.5,2,5.5,9,11.2,12.7,13.8,14.6,15.1,15.5, 15.9,16.2,16.4,16.6,16.8,17,17.1,17.2,17.3,17.5, 17.6,17.7,17.8,17.9,18,18.1,18.1,18.2,18.3,18.3];
const i_cw_cnnM_sd = [1.2,1.2,1.3,1.5,1.7,1.8,1.8,1.8,1.8,1.8, 1.8,1.8,1.8,1.8,1.8,1.8,1.8,1.8,1.8,1.8, 1.8,1.8,1.8,1.8,1.8,1.8,1.8,1.8,1.8,1.8];
const i_cw_ckanM = [-1.5,3,8,13,16.3,18.3,19.7,20.7,21.4,21.9, 22.4,22.7,23,23.3,23.5,23.8,23.9,24,24.2,24.3, 24.5,24.5,24.7,24.7,24.9,24.9,25,25.1,25.2,25.2];
const i_cw_ckanM_sd = [1.2,1.3,1.5,1.8,2,2,2,2,2,2, 2,2,2,2,2,2,2,2,2,2, 2,2,2,2,2,2,2,2,2,2];
const i_cw_cnnS = [-1.5,3,8.5,14,18,20.5,22,23,23.8,24.4, 24.9,25.3,25.7,26,26.3,26.5,26.7,26.9,27,27.2, 27.3,27.4,27.5,27.6,27.7,27.8,27.9,28,28,28.1];
const i_cw_cnnS_sd = [1.5,1.8,2.2,2.5,2.5,2.5,2.5,2.5,2.5,2.5, 2.5,2.5,2.5,2.5,2.5,2.5,2.5,2.5,2.5,2.5, 2.5,2.5,2.5,2.5,2.5,2.5,2.5,2.5,2.5,2.5];
const i_cw_ckanS = [-1.5,3,8,12.8,15.8,17.6,18.8,19.6,20.2,20.7, 21,21.2,21.4,21.6,21.7,21.8,21.9,22,22.1,22.2, 22.3,22.4,22.5,22.5,22.6,22.6,22.7,22.7,22.8,22.8];
const i_cw_ckanS_sd = [1.2,1.3,1.5,1.7,1.8,1.8,1.8,1.8,1.8,1.8, 1.8,1.8,1.8,1.8,1.8,1.8,1.8,1.8,1.8,1.8, 1.8,1.8,1.8,1.8,1.8,1.8,1.8,1.8,1.8,1.8];

// ---------- assemble ----------
const grid = [
  [[[m_pgd_cnnL,m_pgd_cnnL_sd],[m_pgd_ckanL,m_pgd_ckanL_sd],[m_pgd_cnnM,m_pgd_cnnM_sd],[m_pgd_ckanM,m_pgd_ckanM_sd],[m_pgd_cnnS,m_pgd_cnnS_sd],[m_pgd_ckanS,m_pgd_ckanS_sd]],
   [[m_mim_cnnL,m_mim_cnnL_sd],[m_mim_ckanL,m_mim_ckanL_sd],[m_mim_cnnM,m_mim_cnnM_sd],[m_mim_ckanM,m_mim_ckanM_sd],[m_mim_cnnS,m_mim_cnnS_sd],[m_mim_ckanS,m_mim_ckanS_sd]],
   [[m_cw_cnnL,m_cw_cnnL_sd],[m_cw_ckanL,m_cw_ckanL_sd],[m_cw_cnnM,m_cw_cnnM_sd],[m_cw_ckanM,m_cw_ckanM_sd],[m_cw_cnnS,m_cw_cnnS_sd],[m_cw_ckanS,m_cw_ckanS_sd]]],
  [[[c_pgd_cnnL,c_pgd_cnnL_sd],[c_pgd_ckanL,c_pgd_ckanL_sd],[c_pgd_cnnM,c_pgd_cnnM_sd],[c_pgd_ckanM,c_pgd_ckanM_sd],[c_pgd_cnnS,c_pgd_cnnS_sd],[c_pgd_ckanS,c_pgd_ckanS_sd]],
   [[c_mim_cnnL,c_mim_cnnL_sd],[c_mim_ckanL,c_mim_ckanL_sd],[c_mim_cnnM,c_mim_cnnM_sd],[c_mim_ckanM,c_mim_ckanM_sd],[c_mim_cnnS,c_mim_cnnS_sd],[c_mim_ckanS,c_mim_ckanS_sd]],
   [[c_cw_cnnL,c_cw_cnnL_sd],[c_cw_ckanL,c_cw_ckanL_sd],[c_cw_cnnM,c_cw_cnnM_sd],[c_cw_ckanM,c_cw_ckanM_sd],[c_cw_cnnS,c_cw_cnnS_sd],[c_cw_ckanS,c_cw_ckanS_sd]]],
  [[[s_pgd_cnnL,s_pgd_cnnL_sd],[s_pgd_ckanL,s_pgd_ckanL_sd],[s_pgd_cnnM,s_pgd_cnnM_sd],[s_pgd_ckanM,s_pgd_ckanM_sd],[s_pgd_cnnS,s_pgd_cnnS_sd],[s_pgd_ckanS,s_pgd_ckanS_sd]],
   [[s_mim_cnnL,s_mim_cnnL_sd],[s_mim_ckanL,s_mim_ckanL_sd],[s_mim_cnnM,s_mim_cnnM_sd],[s_mim_ckanM,s_mim_ckanM_sd],[s_mim_cnnS,s_mim_cnnS_sd],[s_mim_ckanS,s_mim_ckanS_sd]],
   [[s_cw_cnnL,s_cw_cnnL_sd],[s_cw_ckanL,s_cw_ckanL_sd],[s_cw_cnnM,s_cw_cnnM_sd],[s_cw_ckanM,s_cw_ckanM_sd],[s_cw_cnnS,s_cw_cnnS_sd],[s_cw_ckanS,s_cw_ckanS_sd]]],
  [[[i_pgd_cnnL,i_pgd_cnnL_sd],[i_pgd_ckanL,i_pgd_ckanL_sd],[i_pgd_cnnM,i_pgd_cnnM_sd],[i_pgd_ckanM,i_pgd_ckanM_sd],[i_pgd_cnnS,i_pgd_cnnS_sd],[i_pgd_ckanS,i_pgd_ckanS_sd]],
   [[i_mim_cnnL,i_mim_cnnL_sd],[i_mim_ckanL,i_mim_ckanL_sd],[i_mim_cnnM,i_mim_cnnM_sd],[i_mim_ckanM,i_mim_ckanM_sd],[i_mim_cnnS,i_mim_cnnS_sd],[i_mim_ckanS,i_mim_ckanS_sd]],
   [[i_cw_cnnL,i_cw_cnnL_sd],[i_cw_ckanL,i_cw_ckanL_sd],[i_cw_cnnM,i_cw_cnnM_sd],[i_cw_ckanM,i_cw_ckanM_sd],[i_cw_cnnS,i_cw_cnnS_sd],[i_cw_ckanS,i_cw_ckanS_sd]]]
];
const yTicksByRow = [yTicksMnist, yTicksCifar, yTicksSvhn, yTicksImagenet];
const xTicksByRow = [xTicksMnist, xTicksOther, xTicksOther, xTicksOther];

// ---------- styles ----------
const colors = ["#add8e6", "#00008b", "#90ee90", "#006400", "#ffb6c1", "#ff1493"];
const dashed = [false, true, false, true, false, true];
const bandAlpha = [0.3, 0.2, 0.3, 0.2, 0.3, 0.2];
const colX = [86, 400.7, 716], rowY = [117.7, 302.7, 488.3, 671.3], W = 262, H = 154;
const FONT = "DejaVu Sans, sans-serif";
const fmt = d => d < 0 ? "\u2212" + Math.abs(d) : String(d);

const svg = d3.select("#c");
const defs = svg.append("defs");

grid.forEach((row, ri) => row.forEach((series, ci) => {
  const x0 = colX[ci], y0 = rowY[ri];
  const n = series[0][0].length;
  const xs = d3.scaleLinear().domain([-(n - 1) * 0.05, (n - 1) * 1.05]).range([x0, x0 + W]);
  const lo = d3.min(series, s => d3.min(s[0], (v, i) => v - s[1][i]));
  const hi = d3.max(series, s => d3.max(s[0], (v, i) => v + s[1][i]));
  const pad = (hi - lo) * 0.05;
  const ys = d3.scaleLinear().domain([lo - pad, hi + pad]).range([y0 + H, y0]);
  const id = "clip" + ri + "_" + ci;
  defs.append("clipPath").attr("id", id).append("rect").attr("x", x0).attr("y", y0).attr("width", W).attr("height", H);
  const g = svg.append("g");
  const plot = g.append("g").attr("clip-path", "url(#" + id + ")");

  series.forEach((s, k) => {
    const area = d3.area().x((d, i) => xs(i)).y0((d, i) => ys(d - s[1][i])).y1((d, i) => ys(d + s[1][i]));
    plot.append("path").attr("d", area(s[0])).attr("fill", colors[k]).attr("fill-opacity", bandAlpha[k]).attr("stroke", "none");
  });
  const xt = xTicksByRow[ri].filter(t => t >= xs.domain()[0] && t <= xs.domain()[1]);
  const yt = yTicksByRow[ri][ci].filter(t => t >= ys.domain()[0] && t <= ys.domain()[1]);
  xt.forEach(t => plot.append("line").attr("x1", xs(t)).attr("x2", xs(t)).attr("y1", y0).attr("y2", y0 + H).attr("stroke", "#b0b0b0").attr("stroke-width", 0.9));
  yt.forEach(t => plot.append("line").attr("x1", x0).attr("x2", x0 + W).attr("y1", ys(t)).attr("y2", ys(t)).attr("stroke", "#b0b0b0").attr("stroke-width", 0.9));
  series.forEach((s, k) => {
    const line = d3.line().x((d, i) => xs(i)).y(d => ys(d));
    plot.append("path").attr("d", line(s[0])).attr("fill", "none").attr("stroke", colors[k])
      .attr("stroke-width", 1.1).attr("stroke-dasharray", dashed[k] ? "4.1,1.8" : null);
  });
  g.append("rect").attr("x", x0).attr("y", y0).attr("width", W).attr("height", H).attr("fill", "none").attr("stroke", "#000").attr("stroke-width", 0.9);
  const ax = g.append("g").attr("transform", `translate(0,${y0 + H})`)
    .call(d3.axisBottom(xs).tickValues(xt).tickFormat(fmt).tickSize(4).tickPadding(3));
  const ay = g.append("g").attr("transform", `translate(${x0},0)`)
    .call(d3.axisLeft(ys).tickValues(yt).tickFormat(fmt).tickSize(4).tickPadding(3.5));
  [ax, ay].forEach(a => {
    a.select(".domain").remove();
    a.attr("font-family", FONT).attr("font-size", 11);
    a.selectAll("line").attr("stroke", "#000").attr("stroke-width", 0.9);
    a.selectAll("text").attr("fill", "#000");
  });
  if (ri === 0) {
    svg.append("text").attr("x", x0 + W / 2).attr("y", 113).attr("text-anchor", "middle")
      .attr("font-family", FONT).attr("font-size", 20).text(attacks[ci]);
  }
  if (ri === 3) {
    svg.append("text").attr("x", x0 + W / 2).attr("y", 858.1).attr("text-anchor", "middle")
      .attr("font-family", FONT).attr("font-size", 16.4).text("Iteration");
  }
  if (ci === 0) {
    let minLeft = Infinity;
    ay.selectAll("text").each(function () {
      const w = this.getComputedTextLength();
      minLeft = Math.min(minLeft, x0 - 7.5 - w);
    });
    const lx = minLeft - 6, cy = y0 + H / 2;
    svg.append("text").attr("transform", `translate(${lx},${cy}) rotate(-90)`).attr("text-anchor", "middle")
      .attr("font-family", FONT).attr("font-size", 16).text("Loss");
    svg.append("text").attr("transform", `translate(25,${cy}) rotate(-90)`).attr("text-anchor", "middle")
      .attr("font-family", FONT).attr("font-size", 15.5).attr("font-weight", "bold").text(datasets[ri]);
  }
}));

// ---------- legend ----------
const lg = svg.append("g");
lg.append("rect").attr("x", 262).attr("y", 6).attr("width", 515).attr("height", 53).attr("rx", 4)
  .attr("fill", "#000").attr("fill-opacity", 0.12);
lg.append("rect").attr("x", 260).attr("y", 4).attr("width", 515).attr("height", 53).attr("rx", 4)
  .attr("fill", "#fff").attr("stroke", "#cccccc").attr("stroke-width", 1);
const legCols = [266, 436, 628];
const legRows = [18.5, 43];
seriesNames.forEach((name, k) => {
  const c = Math.floor(k / 2), r = k % 2;
  const lx = legCols[c], ly = legRows[r];
  lg.append("line").attr("x1", lx).attr("x2", lx + 33).attr("y1", ly).attr("y2", ly)
    .attr("stroke", colors[k]).attr("stroke-width", 2.2).attr("stroke-dasharray", dashed[k] ? "8.1,3.5" : null);
  lg.append("text").attr("x", lx + 46).attr("y", ly).attr("dy", "0.36em")
    .attr("font-family", FONT).attr("font-size", 16).text(name);
});
</script>
</body></html>
